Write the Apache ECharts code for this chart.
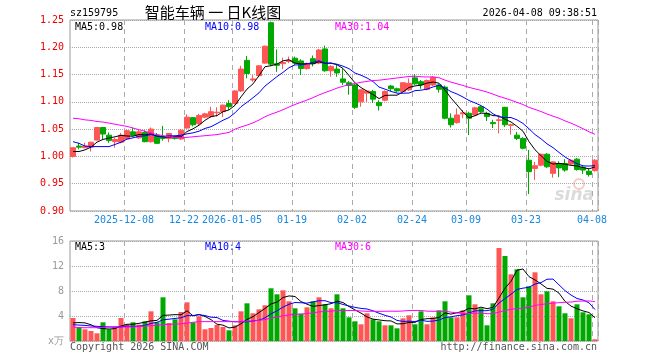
<!DOCTYPE html>
<html><head><meta charset="utf-8">
<script src="https://cdn.jsdelivr.net/npm/echarts@6/dist/echarts.min.js"></script>
<style>html,body{margin:0;padding:0;background:#fff}#c{width:660px;height:360px}</style>
</head><body><div id="c"></div>
<script>
const dates = [
 '2025-11-25','2025-11-26','2025-11-27','2025-11-28',
 '2025-12-01','2025-12-02','2025-12-03','2025-12-04','2025-12-05',
 '2025-12-08','2025-12-09','2025-12-10','2025-12-11','2025-12-12',
 '2025-12-15','2025-12-16','2025-12-17','2025-12-18','2025-12-19',
 '2025-12-22','2025-12-23','2025-12-24','2025-12-25','2025-12-26',
 '2025-12-29','2025-12-30','2025-12-31',
 '2026-01-05','2026-01-06','2026-01-07','2026-01-08','2026-01-09',
 '2026-01-12','2026-01-13','2026-01-14','2026-01-15','2026-01-16',
 '2026-01-19','2026-01-20','2026-01-21','2026-01-22','2026-01-23',
 '2026-01-26','2026-01-27','2026-01-28','2026-01-29','2026-01-30',
 '2026-02-02','2026-02-03','2026-02-04','2026-02-05','2026-02-06',
 '2026-02-09','2026-02-10','2026-02-11','2026-02-12','2026-02-13',
 '2026-02-24','2026-02-25','2026-02-26','2026-02-27',
 '2026-03-02','2026-03-03','2026-03-04','2026-03-05','2026-03-06',
 '2026-03-09','2026-03-10','2026-03-11','2026-03-12','2026-03-13',
 '2026-03-16','2026-03-17','2026-03-18','2026-03-19','2026-03-20',
 '2026-03-23','2026-03-24','2026-03-25','2026-03-26','2026-03-27',
 '2026-03-30','2026-03-31','2026-04-01','2026-04-02','2026-04-03',
 '2026-04-07','2026-04-08'
];
const opens = [1.000,1.019,1.016,1.017,1.030,1.053,1.039,1.027,1.026,1.032,
 1.045,1.034,1.044,1.027,1.039,1.036,1.033,1.034,1.032,1.052,
 1.071,1.060,1.072,1.073,1.080,1.082,1.097,1.097,1.120,1.176,
 1.140,1.148,1.171,1.245,1.170,1.170,1.174,1.180,1.175,1.161,
 1.179,1.171,1.197,1.157,1.160,1.142,1.135,1.131,1.100,1.116,
 1.119,1.099,1.103,1.129,1.124,1.119,1.122,1.144,1.137,1.123,
 1.131,1.131,1.127,1.070,1.062,1.078,1.079,1.076,1.091,1.079,
 1.062,1.066,1.090,1.057,1.039,1.033,0.993,0.978,0.984,1.004,
 0.969,0.987,0.987,0.986,0.995,0.980,0.973,0.974];
const closes = [1.016,1.017,1.019,1.026,1.053,1.041,1.029,1.031,1.039,1.047,
 1.039,1.045,1.027,1.050,1.024,1.033,1.042,1.033,1.048,1.072,
 1.058,1.075,1.078,1.082,1.081,1.094,1.091,1.120,1.160,1.152,
 1.142,1.166,1.202,1.169,1.167,1.172,1.176,1.171,1.161,1.170,
 1.170,1.195,1.157,1.165,1.153,1.136,1.130,1.090,1.122,1.120,
 1.105,1.093,1.119,1.124,1.120,1.135,1.134,1.133,1.131,1.139,
 1.145,1.123,1.070,1.058,1.076,1.080,1.070,1.089,1.082,1.073,
 1.060,1.067,1.058,1.058,1.033,1.015,0.972,0.983,1.004,0.981,
 0.990,0.979,0.975,0.993,0.976,0.975,0.967,0.993];
const lows = [0.998,1.013,1.015,1.009,1.029,1.031,1.025,1.016,1.024,1.031,
 1.038,1.032,1.026,1.025,1.023,1.029,1.026,1.031,1.030,1.051,
 1.055,1.057,1.070,1.071,1.073,1.072,1.085,1.095,1.118,1.143,
 1.137,1.146,1.170,1.166,1.155,1.160,1.171,1.168,1.149,1.159,
 1.165,1.169,1.155,1.146,1.146,1.131,1.113,1.087,1.091,1.100,
 1.098,1.084,1.101,1.119,1.117,1.118,1.120,1.131,1.124,1.121,
 1.129,1.117,1.068,1.053,1.060,1.070,1.039,1.075,1.080,1.065,
 1.052,1.042,1.054,1.040,1.030,1.013,0.931,0.957,0.982,0.979,
 0.961,0.962,0.972,0.984,0.974,0.968,0.963,0.972];
const highs = [1.017,1.025,1.025,1.027,1.054,1.054,1.044,1.034,1.043,1.049,
 1.053,1.049,1.048,1.053,1.043,1.056,1.043,1.036,1.050,1.077,
 1.072,1.078,1.080,1.091,1.090,1.095,1.103,1.121,1.166,1.184,
 1.149,1.167,1.203,1.247,1.196,1.181,1.183,1.183,1.178,1.172,
 1.185,1.197,1.203,1.167,1.168,1.161,1.138,1.133,1.123,1.121,
 1.122,1.103,1.121,1.131,1.126,1.136,1.143,1.151,1.140,1.141,
 1.147,1.133,1.130,1.079,1.088,1.085,1.082,1.091,1.093,1.082,
 1.067,1.073,1.091,1.060,1.045,1.035,1.012,0.990,1.005,1.006,
 0.991,0.991,0.995,0.995,0.997,0.984,0.978,0.995];
const volumes = [3.68,2.24,1.87,1.60,1.23,2.99,1.87,2.24,3.68,2.61,
 2.99,2.61,3.15,4.75,2.99,6.99,2.88,3.47,4.64,6.19,
 2.99,3.95,1.87,2.08,2.56,2.24,1.71,2.51,4.75,6.03,
 4.43,5.07,5.71,8.43,7.47,8.11,6.35,5.23,4.37,5.39,
 6.35,6.99,5.87,5.23,7.47,5.23,3.79,3.15,2.67,4.43,
 3.47,3.15,2.51,2.51,2.03,3.63,4.11,2.67,4.75,2.67,
 3.79,4.91,6.35,3.79,3.79,4.91,7.31,5.87,5.23,2.51,
 6.03,14.88,13.60,10.67,11.47,6.99,8.75,10.99,7.47,7.95,
 6.35,5.55,4.43,3.63,5.87,4.59,4.27,0.27];
const ma5Head  = [1.009,1.009,1.012,1.017];
const ma10Head = [1.027,1.024,1.019,1.018,1.018,1.018,1.018,1.022,1.026];
const ma30Head = [1.070,1.069,1.067,1.066,1.064,1.063,1.061,1.059,1.057,1.055,
 1.052,1.049,1.046,1.043,1.040,1.038,1.036,1.035,1.034,1.035,
 1.036,1.037,1.038,1.039,1.040,1.042,1.044,1.050,1.054];
const vma5Head  = [2.90,2.95,2.90,2.60];
const vma10Head = [2.60,2.55,2.50,2.40,2.35,2.30,2.25,2.25,2.25];
const vma30Head = [2.24,2.13,2.13,2.13,2.13,2.20,2.24,2.24,2.24,2.24,
 2.24,2.30,2.40,2.45,2.50,2.60,2.67,2.70,2.75,2.85,
 3.00,3.10,3.10,3.10,3.10,3.10,3.10,3.10,3.15];
const tickDates = ['2025-12-08','2025-12-22','2026-01-05','2026-01-19','2026-02-02','2026-02-24','2026-03-09','2026-03-23','2026-04-08'];
const tickTexts = ['2025-12-08','12-22','2026-01-05','01-19','02-02','02-24','03-09','03-23','04-08'];
const priceTicks = {min:0.90, max:1.25, step:0.05};
const volTicks = {min:0, max:16, step:4};

function ma(arr, n, head){
  return arr.map((v,i)=>{
    if(i < n-1) return head[i];
    let s=0; for(let k=i-n+1;k<=i;k++) s+=arr[k];
    return +(s/n).toFixed(4);
  });
}
const RED='#ff5555', GREEN='#00a800';
const kdata = dates.map((d,i)=>[opens[i],closes[i],lows[i],highs[i]]);
const vdata = volumes.map((v,i)=>({value:v,itemStyle:{color: closes[i]>=opens[i]?RED:GREEN}}));
const tickIdx = tickDates.map(d=>dates.indexOf(d));
const isTick = (i)=>tickIdx.indexOf(i)>=0;
const MONO = '"DejaVu Sans Mono", monospace';

const chart = echarts.init(document.getElementById('c'), null, {renderer:'canvas'});
const splitV = {show:true, interval:(i)=>isTick(i), lineStyle:{color:'#aaaaaa', type:[5,4], width:1}};
const lineS = (name,data,color,xi)=>({name,type:'line',data,xAxisIndex:xi,yAxisIndex:xi,
  symbol:'none',smooth:false,lineStyle:{width:1,color},itemStyle:{color},z:5,silent:true});
chart.setOption({
  animation:false,
  backgroundColor:'#ffffff',
  grid:[
    {left:70, top:20, width:528, height:191, show:true, borderColor:'#999999', borderWidth:1, backgroundColor:'transparent'},
    {left:70, top:241, width:528, height:100, show:true, borderColor:'#999999', borderWidth:1, backgroundColor:'transparent'}
  ],
  xAxis:[
    {type:'category', gridIndex:0, data:dates, boundaryGap:true,
     axisLine:{show:false}, axisTick:{show:false},
     axisLabel:{interval:(i)=>isTick(i), formatter:(v)=>tickTexts[tickDates.indexOf(v)],
       color:'#1a88dd', fontSize:10, fontFamily:MONO, margin:4, padding:[0,6,0,0]},
     splitLine:splitV},
    {type:'category', gridIndex:1, data:dates, boundaryGap:true,
     axisLine:{show:false}, axisTick:{show:false}, axisLabel:{show:false},
     splitLine:splitV}
  ],
  yAxis:[
    {type:'value', gridIndex:0, min:priceTicks.min, max:priceTicks.max, interval:priceTicks.step,
     axisLine:{show:false}, axisTick:{show:false},
     axisLabel:{formatter:(v)=>v.toFixed(2), color:'#ee0000', fontSize:10, fontFamily:MONO, margin:6},
     splitLine:{show:true, lineStyle:{color:'#aaaaaa', type:'dotted', width:1}}},
    {type:'value', gridIndex:1, min:volTicks.min, max:volTicks.max, interval:volTicks.step,
     axisLine:{show:false}, axisTick:{show:false},
     axisLabel:{formatter:(v)=>v===0?'x万':String(v), color:'#999999', fontSize:10, fontFamily:MONO, margin:6},
     splitLine:{show:true, lineStyle:{color:'#aaaaaa', type:'dotted', width:1}}}
  ],
  series:[
    {type:'candlestick', data:kdata, xAxisIndex:0, yAxisIndex:0, barWidth:5,
     itemStyle:{color:RED, color0:GREEN, borderColor:RED, borderColor0:GREEN, borderWidth:1}, z:3},
    lineS('MA5', ma(closes,5,ma5Head), '#000000', 0),
    lineS('MA10', ma(closes,10,ma10Head), '#0000ff', 0),
    lineS('MA30', ma(closes,30,ma30Head), '#ff00ff', 0),
    {type:'bar', data:vdata, xAxisIndex:1, yAxisIndex:1, barWidth:5, z:3},
    lineS('VMA5', ma(volumes,5,vma5Head), '#000000', 1),
    lineS('VMA10', ma(volumes,10,vma10Head), '#0000ff', 1),
    lineS('VMA30', ma(volumes,30,vma30Head), '#ff00ff', 1)
  ],
  graphic:[
    {type:'text', x:70, y:13, style:{text:'sz159795', font:'10px '+MONO, fill:'#000', verticalAlign:'middle'}},
    {type:'text', x:213, y:12, style:{text:'智能车辆 一 日K线图', font:'15px "Noto Sans CJK SC"', fill:'#000', align:'center', verticalAlign:'middle'}},
    {type:'text', x:597, y:13, style:{text:'2026-04-08 09:38:51', font:'10px '+MONO, fill:'#000', align:'right', verticalAlign:'middle'}},
    {type:'text', x:75, y:27, style:{text:'MA5:0.98', font:'10px '+MONO, fill:'#000', verticalAlign:'middle'}},
    {type:'text', x:205, y:27, style:{text:'MA10:0.98', font:'10px '+MONO, fill:'#0000ff', verticalAlign:'middle'}},
    {type:'text', x:335, y:27, style:{text:'MA30:1.04', font:'10px '+MONO, fill:'#ff00ff', verticalAlign:'middle'}},
    {type:'text', x:75, y:247, style:{text:'MA5:3', font:'10px '+MONO, fill:'#000', verticalAlign:'middle'}},
    {type:'text', x:205, y:247, style:{text:'MA10:4', font:'10px '+MONO, fill:'#0000ff', verticalAlign:'middle'}},
    {type:'text', x:335, y:247, style:{text:'MA30:6', font:'10px '+MONO, fill:'#ff00ff', verticalAlign:'middle'}},
    {type:'text', x:70, y:347, style:{text:'Copyright 2026 SINA.COM', font:'10px '+MONO, fill:'#555', verticalAlign:'middle'}},
    {type:'text', x:597, y:347, style:{text:'http://finance.sina.com.cn', font:'10px '+MONO, fill:'#555', align:'right', verticalAlign:'middle'}},
    {type:'text', x:594, y:196, z:0, style:{text:'sina', font:'italic bold 17px "DejaVu Sans"', fill:'rgba(190,190,190,0.55)', align:'right', verticalAlign:'middle'}},
    {type:'circle', shape:{cx:579, cy:184, r:5}, z:0, style:{fill:'none', stroke:'rgba(240,150,150,0.5)', lineWidth:2}}
  ]
});
</script></body></html>
